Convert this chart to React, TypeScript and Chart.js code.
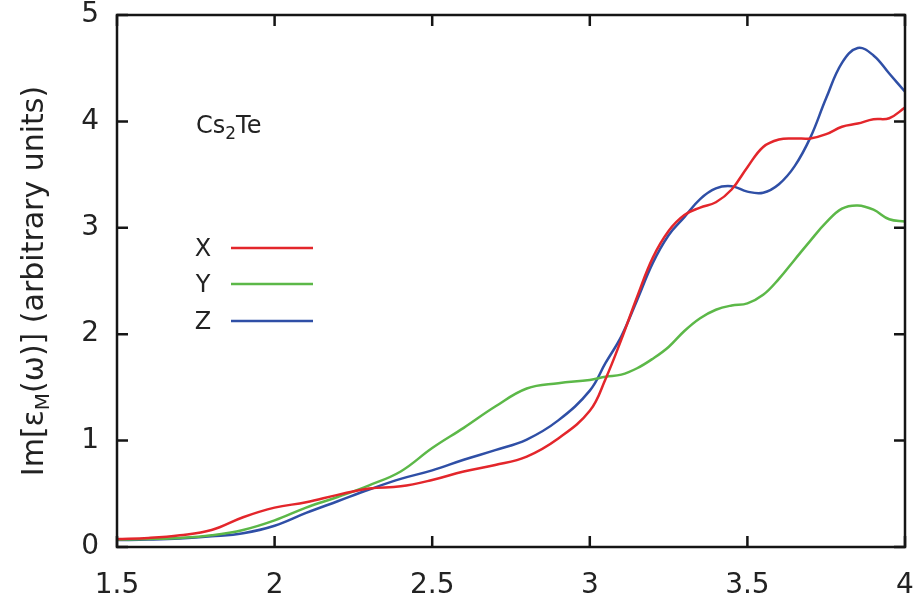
import React, { useEffect, useRef } from "react";
import { Chart, registerables } from "chart.js";

Chart.register(...registerables);

// Photon energy grid (eV)
const energy = [
  1.5, 1.6, 1.7, 1.8, 1.9, 2.0, 2.1, 2.2, 2.3, 2.4, 2.5, 2.6, 2.7, 2.8, 2.9, 3.0,
  3.05, 3.1, 3.15, 3.2, 3.25, 3.3, 3.35, 3.4, 3.45, 3.5, 3.55, 3.6, 3.65, 3.7,
  3.75, 3.8, 3.85, 3.9, 3.95, 4.0,
];

// Im[eps_M(omega)] along each polarisation direction
const imX = [
  0.075, 0.085, 0.11, 0.16, 0.28, 0.37, 0.42, 0.49, 0.55, 0.57, 0.63, 0.71, 0.77, 0.85, 1.02, 1.28,
  1.58, 1.95, 2.35, 2.72, 2.97, 3.12, 3.19, 3.24, 3.36, 3.57, 3.76, 3.83, 3.84, 3.84,
  3.88, 3.95, 3.98, 4.02, 4.03, 4.13,
];
const imY = [
  0.07, 0.075, 0.085, 0.11, 0.16, 0.25, 0.37, 0.47, 0.58, 0.71, 0.93, 1.12, 1.32, 1.49, 1.54, 1.57,
  1.6, 1.62, 1.68, 1.77, 1.88, 2.03, 2.15, 2.23, 2.27, 2.29, 2.37, 2.52, 2.7, 2.88,
  3.05, 3.18, 3.21, 3.17, 3.08, 3.06,
];
const imZ = [
  0.065, 0.07, 0.08, 0.1, 0.13, 0.2, 0.32, 0.43, 0.54, 0.64, 0.72, 0.82, 0.91, 1.01, 1.19, 1.47,
  1.73, 1.98, 2.32, 2.67, 2.93, 3.1, 3.27, 3.37, 3.39, 3.34, 3.33, 3.41, 3.58, 3.85,
  4.22, 4.55, 4.69, 4.62, 4.45, 4.28,
];

const seriesLabels = ["X", "Y", "Z"];
const seriesColors = ["#e3262b", "#5cb848", "#2f4fa6"];

const xTicks = [1.5, 2, 2.5, 3, 3.5, 4];
const yTicks = [0, 1, 2, 3, 4, 5];

const FONT = "'DejaVu Sans', sans-serif";

// Draws a run of [text, isSubscript] pieces starting at x on baseline y.
function drawPieces(
  ctx: CanvasRenderingContext2D,
  pieces: [string, boolean][],
  x: number,
  y: number,
  size: number,
  subSize: number,
  subDrop: number
) {
  let cx = x;
  for (const [t, sub] of pieces) {
    ctx.font = `${sub ? subSize : size}px ${FONT}`;
    ctx.fillText(t, cx, sub ? y + subDrop : y);
    cx += ctx.measureText(t).width;
  }
}

function measurePieces(
  ctx: CanvasRenderingContext2D,
  pieces: [string, boolean][],
  size: number,
  subSize: number
) {
  let w = 0;
  for (const [t, sub] of pieces) {
    ctx.font = `${sub ? subSize : size}px ${FONT}`;
    w += ctx.measureText(t).width;
  }
  return w;
}

const frameAndLabels = {
  id: "frameAndLabels",
  afterDatasetsDraw(chart: any) {
    const { ctx, chartArea: a, scales } = chart;
    const xs = scales.x;
    const ys = scales.y;
    ctx.save();

    // plot frame with inward ticks on all four sides
    ctx.strokeStyle = "#151515";
    ctx.lineWidth = 2.5;
    ctx.strokeRect(a.left, a.top, a.right - a.left, a.bottom - a.top);
    const L = 11;
    ctx.beginPath();
    xTicks.forEach((v) => {
      const px = xs.getPixelForValue(v);
      ctx.moveTo(px, a.bottom);
      ctx.lineTo(px, a.bottom - L);
      ctx.moveTo(px, a.top);
      ctx.lineTo(px, a.top + L);
    });
    yTicks.forEach((v) => {
      const py = ys.getPixelForValue(v);
      ctx.moveTo(a.left, py);
      ctx.lineTo(a.left + L, py);
      ctx.moveTo(a.right, py);
      ctx.lineTo(a.right - L, py);
    });
    ctx.stroke();

    ctx.fillStyle = "#222";
    ctx.textBaseline = "alphabetic";
    ctx.textAlign = "left";

    // y-axis title
    const title: [string, boolean][] = [
      ["Im[ε", false],
      ["M", true],
      ["(ω)] (arbitrary units)", false],
    ];
    ctx.save();
    ctx.translate(43, (a.top + a.bottom) / 2);
    ctx.rotate(-Math.PI / 2);
    const tw = measurePieces(ctx, title, 30, 20);
    drawPieces(ctx, title, -tw / 2, 0, 30, 20, 6);
    ctx.restore();

    // compound label
    drawPieces(
      ctx,
      [
        ["Cs", false],
        ["2", true],
        ["Te", false],
      ],
      a.left + 79,
      a.top + 118,
      24,
      17,
      6
    );

    // legend: label then sample line
    const rows = [248, 284, 321];
    chart.data.datasets.forEach((ds: any, i: number) => {
      const y = rows[i];
      ctx.font = `24px ${FONT}`;
      ctx.textAlign = "center";
      ctx.textBaseline = "middle";
      ctx.fillStyle = "#222";
      ctx.fillText(ds.label, a.left + 86, y + 2);
      ctx.strokeStyle = ds.borderColor;
      ctx.lineWidth = 2.5;
      ctx.beginPath();
      ctx.moveTo(a.left + 114, y);
      ctx.lineTo(a.left + 196, y);
      ctx.stroke();
    });

    ctx.restore();
  },
};

// keep tick labels from enlarging the plot margins
function fixPadding(s: any) {
  s.paddingLeft = 0;
  s.paddingRight = 0;
  s.paddingTop = 0;
  s.paddingBottom = 0;
}

export default function App() {
  const ref = useRef<HTMLCanvasElement | null>(null);

  useEffect(() => {
    if (!ref.current) return;
    const series = [imX, imY, imZ];
    const chart = new Chart(ref.current, {
      type: "line",
      data: {
        datasets: series.map((vals, i) => ({
          label: seriesLabels[i],
          data: energy.map((e, j) => ({ x: e, y: vals[j] })),
          borderColor: seriesColors[i],
          borderWidth: 2.5,
          pointRadius: 0,
          tension: 0.4,
          fill: false,
        })),
      },
      options: {
        responsive: false,
        animation: false,
        layout: { padding: { top: 15, right: 18, left: 0, bottom: 0 } },
        plugins: { legend: { display: false }, tooltip: { enabled: false } },
        scales: {
          x: {
            type: "linear",
            min: 1.5,
            max: 4,
            afterBuildTicks: (s: any) => {
              s.ticks = xTicks.map((v) => ({ value: v }));
            },
            afterFit: (s: any) => {
              s.height = 58;
              fixPadding(s);
            },
            grid: { display: false, drawTicks: false },
            border: { display: false },
            ticks: {
              padding: 22,
              color: "#222",
              font: { family: FONT, size: 28 },
              maxRotation: 0,
              callback: (v: any) => String(v),
            },
          },
          y: {
            type: "linear",
            min: 0,
            max: 5,
            afterBuildTicks: (s: any) => {
              s.ticks = yTicks.map((v) => ({ value: v }));
            },
            afterFit: (s: any) => {
              s.width = 117;
              fixPadding(s);
            },
            grid: { display: false, drawTicks: false },
            border: { display: false },
            ticks: {
              padding: 18,
              color: "#222",
              font: { family: FONT, size: 28 },
              callback: (v: any) => String(v),
            },
          },
        },
      },
      plugins: [frameAndLabels],
    });
    return () => chart.destroy();
  }, []);

  return (
    <div style={{ position: "absolute", left: 0, top: 0, width: 923, height: 605, background: "#fff" }}>
      <canvas ref={ref} width={923} height={605} />
    </div>
  );
}
